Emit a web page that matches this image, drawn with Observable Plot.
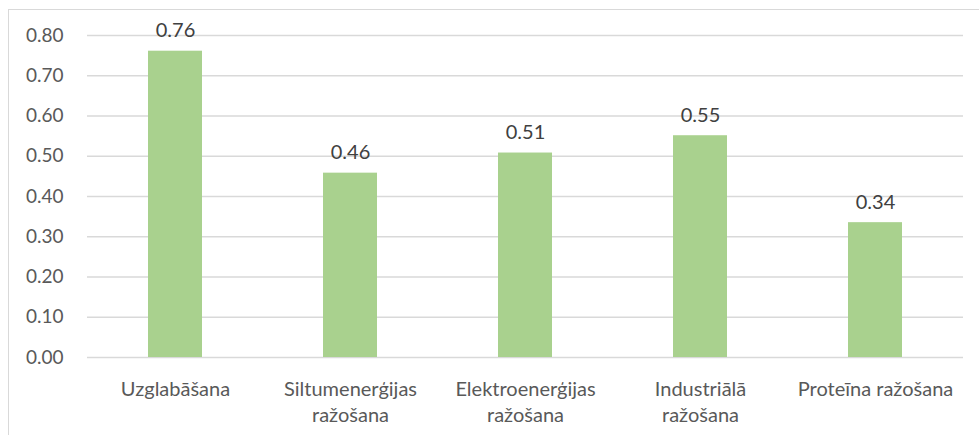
<!DOCTYPE html>
<html>
<head>
<meta charset="utf-8">
<script src="https://cdn.jsdelivr.net/npm/d3@7"></script>
<script src="https://cdn.jsdelivr.net/npm/@observablehq/plot@0.6"></script>
<style>
  html, body { margin: 0; padding: 0; background: #fff; overflow: hidden; }
  #wrap { position: relative; width: 979px; height: 435px; overflow: hidden; }
  #border { position: absolute; left: 8px; top: 9px; width: 1100px; height: 600px; border: 1.5px solid #d9d9d9; box-sizing: border-box; }
  #chart { position: absolute; left: 0; top: 0; }
</style>
</head>
<body>
<div id="wrap"><div id="border"></div><div id="chart"></div></div>
<script>
const categories = ["Uzglabāšana", "Siltumenerģijas\nražošana", "Elektroenerģijas\nražošana", "Industriālā\nražošana", "Proteīna ražošana"];
const values = [0.761, 0.458, 0.508, 0.551, 0.335];
const yTicks = [0, 0.1, 0.2, 0.3, 0.4, 0.5, 0.6, 0.7, 0.8];

const data = categories.map((c, i) => ({category: c, value: values[i]}));
const font = "Lato, 'Open Sans', sans-serif";

const chart = Plot.plot({
  width: 979,
  height: 435,
  marginLeft: 87,
  marginRight: 16,
  marginTop: 35,
  marginBottom: 78,
  style: {fontFamily: font, fontSize: "19px", color: "#595959", background: "transparent"},
  x: {domain: categories, paddingInner: 0.69, paddingOuter: 0.345, label: null},
  y: {domain: [0, 0.8], label: null},
  marks: [
    Plot.gridY(yTicks, {stroke: "#d9d9d9", strokeOpacity: 1, strokeWidth: 1.3}),
    Plot.axisY(yTicks, {tickSize: 0, tickPadding: 24, tickFormat: d3.format(".2f"), fontSize: 19, fill: "#595959", label: null}),
    Plot.axisX({tickSize: 0, tickPadding: 20, fontSize: 20, fill: "#595959", lineHeight: 1.3, label: null}),
    Plot.barY(data, {x: "category", y: "value", fill: "#a9d18e"}),
    Plot.text(data, {x: "category", y: "value", text: d => d3.format(".2f")(d.value), lineAnchor: "bottom", dy: -14, fontSize: 20, fill: "#404040"})
  ]
});
document.getElementById("chart").appendChild(chart);
</script>
</body>
</html>
